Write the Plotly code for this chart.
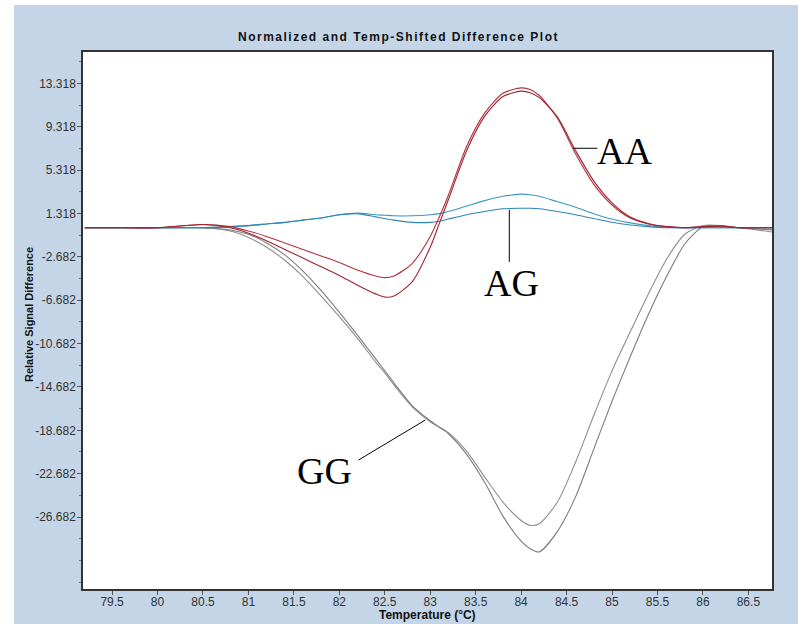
import plotly.graph_objects as go

# ---------------- data ----------------
temperature = [79.2, 79.5, 80.0, 80.5, 80.8, 81.0, 81.2, 81.4, 81.6, 81.8, 82.0, 82.2,
               82.4, 82.5, 82.6, 82.8, 83.0, 83.1, 83.2, 83.4, 83.6, 83.8, 84.0, 84.1, 84.2,
               84.4, 84.6, 84.8, 85.0, 85.2, 85.4, 85.6, 85.8, 86.0, 86.2, 86.4, 86.6, 86.76]

aa_1 = [0.0, 0.0, 0.0, 0.3, 0.1, -0.3, -0.8, -1.4, -2.0, -2.6, -3.2, -3.9,
        -4.45, -4.6, -4.45, -3.3, -0.8, 1.0, 3.0, 7.5, 10.6, 12.4, 12.9, 12.75, 12.2,
        10.1, 6.8, 4.0, 2.1, 0.9, 0.35, 0.1, 0.0, 0.1, 0.15, 0.0, 0.0, 0.0]
aa_2 = [0.0, 0.0, 0.0, 0.3, 0.0, -0.5, -1.2, -2.0, -2.8, -3.6, -4.4, -5.3,
        -6.1, -6.4, -6.3, -5.0, -1.8, 0.4, 2.6, 7.1, 10.3, 12.1, 12.6, 12.45, 12.0,
        10.2, 7.1, 4.3, 2.3, 1.0, 0.4, 0.1, 0.0, 0.1, 0.15, 0.0, 0.0, 0.0]
ag_1 = [0.0, 0.0, 0.0, 0.0, 0.1, 0.2, 0.35, 0.5, 0.7, 0.9, 1.2, 1.35,
        1.2, 1.15, 1.1, 1.1, 1.2, 1.3, 1.5, 2.0, 2.5, 2.9, 3.1, 3.05, 2.9,
        2.4, 1.9, 1.3, 0.8, 0.45, 0.2, 0.05, 0.0, 0.0, 0.0, 0.0, 0.0, 0.0]
ag_2 = [0.0, 0.0, 0.0, 0.0, 0.1, 0.2, 0.35, 0.5, 0.7, 0.9, 1.2, 1.3,
        1.0, 0.85, 0.7, 0.5, 0.5, 0.6, 0.8, 1.2, 1.5, 1.75, 1.8, 1.8, 1.75,
        1.5, 1.2, 0.85, 0.5, 0.25, 0.1, 0.0, 0.0, 0.0, 0.0, 0.0, 0.0, 0.0]
gg_1 = [0.0, 0.0, 0.0, 0.0, -0.3, -0.9, -1.8, -3.0, -4.5, -6.3, -8.2, -10.2,
        -12.4, -13.4, -14.5, -16.5, -17.9, -18.4, -18.9, -20.6, -23.0, -25.3, -27.0, -27.45, -27.3,
        -25.3, -21.6, -17.3, -13.2, -9.6, -6.1, -2.9, -0.6, 0.2, 0.2, 0.0, -0.2, -0.4]
gg_2 = [0.0, 0.0, 0.0, 0.0, -0.2, -0.6, -1.4, -2.5, -4.0, -5.8, -7.8, -9.9,
        -12.1, -13.2, -14.3, -16.4, -17.8, -18.4, -19.0, -20.9, -23.5, -26.6, -28.9, -29.6, -29.9,
        -28.0, -24.8, -20.4, -16.0, -11.9, -8.0, -4.5, -1.5, 0.1, 0.15, 0.0, -0.1, -0.2]

y_tick_values = [13.318, 9.318, 5.318, 1.318, -2.682, -6.682, -10.682,
                 -14.682, -18.682, -22.682, -26.682]
y_minor_values = [15.318, 11.318, 7.318, 3.318, -0.682, -4.682, -8.682, -12.682,
                  -16.682, -20.682, -24.682, -28.682, -30.682, -32.682]
x_tick_values = [79.5, 80, 80.5, 81, 81.5, 82, 82.5, 83, 83.5, 84, 84.5, 85, 85.5, 86, 86.5]
x_tick_labels = ["79.5", "80", "80.5", "81", "81.5", "82", "82.5", "83", "83.5",
                 "84", "84.5", "85", "85.5", "86", "86.5"]

# ---------------- figure ----------------
BLUE_BG = "#C3D5E6"
fig = go.Figure()

series = [
    (gg_1, "#8E8E8E"), (gg_2, "#7C7C7C"),
    (ag_1, "#3F97C2"), (ag_2, "#2E86B8"),
    (aa_1, "#B4303C"), (aa_2, "#9E2430"),
]
for vals, col in series:
    fig.add_trace(go.Scatter(x=temperature, y=vals, mode="lines",
                             line=dict(color=col, width=1.1, shape="spline", smoothing=0.7),
                             showlegend=False, hoverinfo="skip"))

sans = "Liberation Sans, Arial"
tick_font = dict(family=sans, size=12, color="#333333")

fig.update_layout(
    width=798, height=624,
    margin=dict(l=83, r=26, t=52, b=35),
    paper_bgcolor=BLUE_BG,
    plot_bgcolor="white",
    showlegend=False,
    xaxis=dict(range=[79.18, 86.76], tickmode="array", tickvals=x_tick_values,
               ticktext=x_tick_labels, ticks="outside", ticklen=4, tickcolor="#555",
               ticklabelstandoff=-3,
               showgrid=False, zeroline=False, showline=True, linecolor="#333",
               linewidth=1.5, mirror=True, tickfont=tick_font, automargin=False),
    yaxis=dict(range=[-33.32, 16.21], tickmode="array", tickvals=y_tick_values,
               ticktext=[f"{v:.3f}" for v in y_tick_values], ticks="outside",
               ticklen=4, tickcolor="#555", ticklabelstandoff=-1,
               minor=dict(tickmode="array", tickvals=y_minor_values, ticklen=2,
                          ticks="outside", tickcolor="#777"),
               showgrid=False, zeroline=False, showline=True, linecolor="#333",
               linewidth=1.5, mirror=True, tickfont=tick_font, automargin=False),
)

# white outer border strips (left and top)
fig.add_shape(type="rect", xref="paper", yref="paper", x0=-0.2, x1=-0.1001,
              y0=-0.1, y1=1.2, fillcolor="white", line_width=0, layer="below")
fig.add_shape(type="rect", xref="paper", yref="paper", x0=-0.2, x1=1.1,
              y0=1.0875, y1=1.2, fillcolor="white", line_width=0, layer="below")

# title and axis titles
fig.add_annotation(text='<b><span style="letter-spacing:1.5px">Normalized and Temp-Shifted Difference Plot</span></b>',
                   xref="paper", yref="paper", x=(398 - 83) / 689, y=1 + (52 - 37) / 537,
                   xanchor="center", yanchor="middle",
                   showarrow=False, font=dict(family=sans, size=12, color="#111"))
fig.add_annotation(text="<b>Temperature (°C)</b>", xref="paper", yref="paper",
                   x=(427 - 83) / 689, y=-(615 - 589) / 537, xanchor="center", yanchor="middle",
                   showarrow=False, font=dict(family=sans, size=12, color="#111"))
fig.add_annotation(text="<b>Relative Signal Difference</b>", xref="paper", yref="paper",
                   x=(29 - 83) / 689, y=1 - (315 - 52) / 537, textangle=-90,
                   xanchor="center", yanchor="middle", showarrow=False,
                   font=dict(family=sans, size=11, color="#111"))

# genotype labels with leader lines
label_font = dict(family="Liberation Serif, Times New Roman, serif", size=38, color="black")
fig.add_shape(type="line", x0=84.574, y0=7.33, x1=84.838, y1=7.33, line=dict(color="black", width=1))
fig.add_annotation(text="AA", x=85.135, y=7.07, showarrow=False, font=label_font)
fig.add_shape(type="line", x0=83.87, y0=1.64, x1=83.87, y1=-3.15, line=dict(color="black", width=1))
fig.add_annotation(text="AG", x=83.89, y=-5.08, showarrow=False, font=label_font)
fig.add_shape(type="line", x0=82.945, y0=-17.74, x1=82.21, y1=-21.43, line=dict(color="black", width=1))
fig.add_annotation(text="GG", x=81.84, y=-22.44, showarrow=False, font=label_font)

fig.write_html("out.html", config={"displayModeBar": False},
               post_script="document.body.style.margin='0px';document.body.style.overflow='hidden';")
